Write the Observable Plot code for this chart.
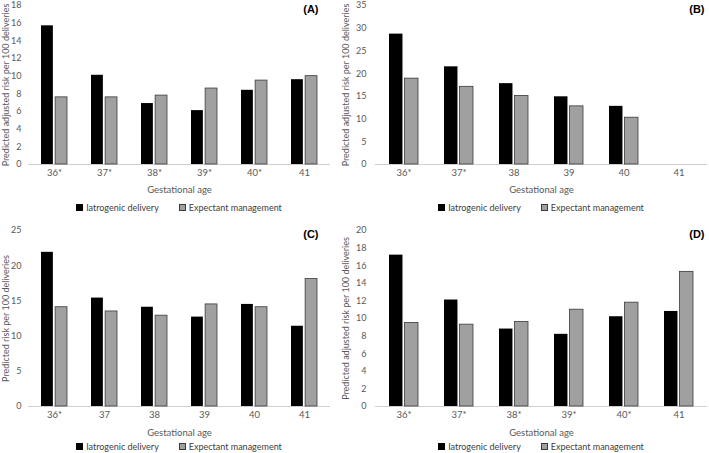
<!DOCTYPE html>
<html><head><meta charset="utf-8">
<script src="https://cdn.jsdelivr.net/npm/d3@7"></script>
<script src="https://cdn.jsdelivr.net/npm/@observablehq/plot@0.6"></script>
<style>
body{margin:0;background:#fff;font-family:Lato,"Open Sans",sans-serif;}
#root{position:relative;width:709px;height:453px;overflow:hidden;background:#fff;}
.panel{position:absolute;}
.panel svg{display:block;overflow:visible;}
.legend{position:absolute;display:flex;justify-content:center;align-items:center;gap:20px;font-size:9px;line-height:12px;height:12px;color:#404040;white-space:nowrap;}
.sw{display:inline-block;width:7px;height:7px;margin-right:3px;box-sizing:border-box;}
</style></head><body><div id="root"></div>
<script>
const seriesNames = ["Iatrogenic delivery", "Expectant management"];
const seriesColors = ["#000000", "#a0a0a0"];

const agesA = ["36*", "37*", "38*", "39*", "40*", "41"];
const iatroA = [15.7, 10.1, 6.9, 6.1, 8.4, 9.6];
const expectA = [7.6, 7.6, 7.8, 8.6, 9.5, 10.0];
const ticksA = [0, 2, 4, 6, 8, 10, 12, 14, 16, 18];

const agesB = ["36*", "37*", "38", "39", "40", "41"];
const iatroB = [28.7, 21.5, 17.8, 14.9, 12.8, null];
const expectB = [18.9, 17.1, 15.1, 12.8, 10.3, null];
const ticksB = [0, 5, 10, 15, 20, 25, 30, 35];

const agesC = ["36*", "37", "38", "39", "40", "41"];
const iatroC = [21.9, 15.4, 14.1, 12.7, 14.5, 11.4];
const expectC = [14.1, 13.5, 12.9, 14.5, 14.1, 18.1];
const ticksC = [0, 5, 10, 15, 20, 25];

const agesD = ["36*", "37*", "38*", "39*", "40*", "41"];
const iatroD = [17.2, 12.1, 8.8, 8.2, 10.2, 10.8];
const expectD = [9.5, 9.3, 9.6, 11.0, 11.8, 15.3];
const ticksD = [0, 2, 4, 6, 8, 10, 12, 14, 16, 18, 20];

const labelAdj = "Predicted adjusted risk per 100 deliveries";
const labelRaw = "Predicted risk per 100 deliveries";

const panels = [
  {tag: "(A)", ages: agesA, iatro: iatroA, expect: expectA, ticks: ticksA, yLabel: labelAdj,
   left: 0, top: 0, width: 340, height: 195, mL: 28, mR: 10, mT: 5, mB: 31, tickPad: 7, tagDx: -12, tagDy: 4, legendTop: 202},
  {tag: "(B)", ages: agesB, iatro: iatroB, expect: expectB, ticks: ticksB, yLabel: labelAdj,
   left: 340, top: 0, width: 369, height: 195, mL: 35, mR: 2, mT: 5, mB: 31, tickPad: 9, tagDx: -3, tagDy: 4, legendTop: 202},
  {tag: "(C)", ages: agesC, iatro: iatroC, expect: expectC, ticks: ticksC, yLabel: labelRaw,
   left: 0, top: 226, width: 340, height: 212, mL: 28, mR: 10, mT: 4, mB: 32, tickPad: 7, tagDx: -12, tagDy: 4, legendTop: 441},
  {tag: "(D)", ages: agesD, iatro: iatroD, expect: expectD, ticks: ticksD, yLabel: labelAdj,
   left: 340, top: 226, width: 369, height: 212, mL: 35, mR: 2, mT: 4, mB: 32, tickPad: 9, tagDx: -3, tagDy: 4, legendTop: 441}
];

const root = document.getElementById("root");

for (const p of panels) {
  const rows = [];
  p.ages.forEach((a, i) => {
    if (p.iatro[i] != null) rows.push({age: a, series: seriesNames[0], value: p.iatro[i]});
    if (p.expect[i] != null) rows.push({age: a, series: seriesNames[1], value: p.expect[i]});
  });
  const step = (p.width - p.mL - p.mR) / p.ages.length;
  const bw = step * 0.52;
  const inset = bw * 0.54;
  const chart = Plot.plot({
    width: p.width,
    height: p.height,
    marginLeft: p.mL,
    marginRight: p.mR,
    marginTop: p.mT,
    marginBottom: p.mB,
    style: {fontFamily: "Lato, 'Open Sans', sans-serif", fontSize: "9px", color: "#595959", background: "transparent", overflow: "visible"},
    x: {type: "band", domain: p.ages, paddingInner: 0.48, paddingOuter: 0.24},
    y: {domain: [0, p.ticks[p.ticks.length - 1]], ticks: p.ticks},
    marks: [
      Plot.axisY({ticks: p.ticks, tickSize: 0, tickPadding: p.tickPad, label: p.yLabel, labelArrow: "none", labelAnchor: "center", labelOffset: p.mL - 2, fontSize: 9, tickFormat: d => String(d)}),
      Plot.axisX({tickSize: 0, tickPadding: 5, label: "Gestational age", labelArrow: "none", labelAnchor: "center", fontSize: 9.5}),
      Plot.ruleY([0], {stroke: "#d0d0d0", strokeWidth: 1}),
      Plot.barY(rows.filter(d => d.series === seriesNames[0]), {x: "age", y: "value", fill: seriesColors[0], insetRight: inset}),
      Plot.barY(rows.filter(d => d.series === seriesNames[1]), {x: "age", y: "value", fill: seriesColors[1], stroke: "#3a3a3a", strokeWidth: 0.8, insetLeft: inset}),
      Plot.text([p.tag], {frameAnchor: "top-right", text: d => d, dx: p.tagDx, dy: p.tagDy, lineAnchor: "middle", fontWeight: "bold", fontSize: 11, fill: "#000", fontFamily: "Arial, 'Liberation Sans', sans-serif"})
    ]
  });
  const div = document.createElement("div");
  div.className = "panel";
  div.style.left = p.left + "px";
  div.style.top = p.top + "px";
  div.appendChild(chart);
  root.appendChild(div);

  const leg = document.createElement("div");
  leg.className = "legend";
  leg.style.left = (p.left + p.mL) + "px";
  leg.style.width = (p.width - p.mL - p.mR) + "px";
  leg.style.top = p.legendTop + "px";
  seriesNames.forEach((name, i) => {
    const item = document.createElement("span");
    const sw = document.createElement("span");
    sw.className = "sw";
    sw.style.background = seriesColors[i];
    if (i === 1) sw.style.border = "1px solid #3a3a3a";
    item.appendChild(sw);
    item.appendChild(document.createTextNode(name));
    leg.appendChild(item);
  });
  root.appendChild(leg);
}
</script></body></html>
